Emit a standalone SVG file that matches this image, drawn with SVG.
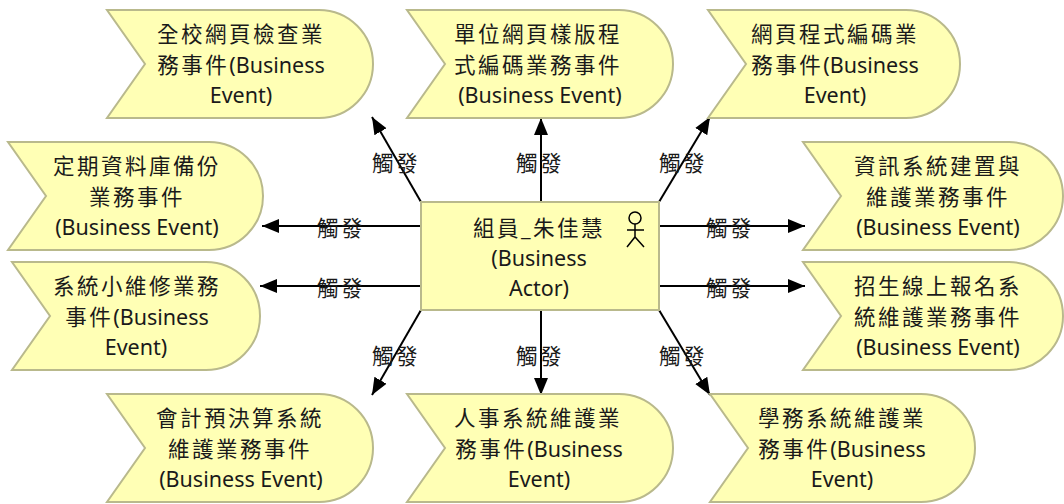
<svg xmlns="http://www.w3.org/2000/svg" width="1064" height="504" viewBox="0 0 1064 504">
<style>
.n{fill:#ffffb5;stroke:#b9b98c;stroke-width:2}
text{font-family:"Noto Sans","Noto Sans CJK TC",sans-serif;font-size:21.5px;fill:#1a1a1a;text-anchor:middle}
tspan{letter-spacing:2.5px}
.c{stroke:#000;stroke-width:2;fill:none;marker-end:url(#a)}
.s{stroke:#000;stroke-width:1.5;fill:none}
</style>
<defs><marker id="a" markerUnits="userSpaceOnUse" markerWidth="18" markerHeight="16" refX="17" refY="8" orient="auto"><path d="M0 1L17 8L0 15Z" fill="#000"/></marker></defs>
<g id="connectors">
<path class="c" d="M421 202L372 117"/>
<path class="c" d="M541 202L541 118"/>
<path class="c" d="M659 202L710 117"/>
<path class="c" d="M421 226L262 226"/>
<path class="c" d="M421 286L260 286"/>
<path class="c" d="M659 226L805 226"/>
<path class="c" d="M659 286L805 286"/>
<path class="c" d="M421 310L372 395"/>
<path class="c" d="M541 310L541 395"/>
<path class="c" d="M659 310L710 395"/>
</g>
<g id="labels">
<text x="396" y="171"><tspan>觸發</tspan></text><text x="540" y="171"><tspan>觸發</tspan></text><text x="683" y="171"><tspan>觸發</tspan></text>
<text x="341" y="236"><tspan>觸發</tspan></text><text x="730" y="236"><tspan>觸發</tspan></text>
<text x="341" y="296"><tspan>觸發</tspan></text><text x="730" y="296"><tspan>觸發</tspan></text>
<text x="396" y="364"><tspan>觸發</tspan></text><text x="540" y="364"><tspan>觸發</tspan></text><text x="683" y="364"><tspan>觸發</tspan></text>
</g>
<g id="n1"><path class="n" d="M107 10H319A54 54 0 0 1 319 118H107L145 64Z"/><text x="241" y="42"><tspan>全校網頁檢查業</tspan></text><text x="241" y="73"><tspan>務事件</tspan>(Business</text><text x="241" y="103">Event)</text></g>
<g id="n2"><path class="n" d="M407 10H619A54 54 0 0 1 619 118H407L445 64Z"/><text x="538" y="42"><tspan>單位網頁樣版程</tspan></text><text x="538" y="73"><tspan>式編碼業務事件</tspan></text><text x="540" y="103">(Business Event)</text></g>
<g id="n3"><path class="n" d="M708 10H906A54 54 0 0 1 906 118H708L746 64Z"/><text x="835" y="42"><tspan>網頁程式編碼業</tspan></text><text x="835" y="73"><tspan>務事件</tspan>(Business</text><text x="835" y="103">Event)</text></g>
<g id="n4"><path class="n" d="M8 142H209A54 54 0 0 1 209 250H8L46 196Z"/><text x="137" y="174"><tspan>定期資料庫備份</tspan></text><text x="137" y="205"><tspan>業務事件</tspan></text><text x="137" y="235">(Business Event)</text></g>
<g id="n5"><path class="n" d="M12 262H206A54 54 0 0 1 206 370H12L50 316Z"/><text x="137" y="294"><tspan>系統小維修業務</tspan></text><text x="137" y="325"><tspan>事件</tspan>(Business</text><text x="136" y="355">Event)</text></g>
<g id="n6"><path class="n" d="M803 142H1009A54 54 0 0 1 1009 250H803L841 196Z"/><text x="938" y="174"><tspan>資訊系統建置與</tspan></text><text x="938" y="205"><tspan>維護業務事件</tspan></text><text x="938" y="235">(Business Event)</text></g>
<g id="n7"><path class="n" d="M803 262H1009A54 54 0 0 1 1009 370H803L841 316Z"/><text x="938" y="294"><tspan>招生線上報名系</tspan></text><text x="938" y="325"><tspan>統維護業務事件</tspan></text><text x="938" y="355">(Business Event)</text></g>
<g id="n8"><path class="n" d="M107 394H319A54 54 0 0 1 319 502H107L145 448Z"/><text x="240" y="426"><tspan>會計預決算系統</tspan></text><text x="240" y="457"><tspan>維護業務事件</tspan></text><text x="241" y="487">(Business Event)</text></g>
<g id="n9"><path class="n" d="M407 394H619A54 54 0 0 1 619 502H407L445 448Z"/><text x="538" y="426"><tspan>人事系統維護業</tspan></text><text x="539" y="457"><tspan>務事件</tspan>(Business</text><text x="539" y="487">Event)</text></g>
<g id="n10"><path class="n" d="M710 394H921A54 54 0 0 1 921 502H710L748 448Z"/><text x="842" y="426"><tspan>學務系統維護業</tspan></text><text x="842" y="457"><tspan>務事件</tspan>(Business</text><text x="842" y="487">Event)</text></g>
<g id="actor"><rect class="n" x="421" y="202" width="238" height="108"/><text x="539" y="236"><tspan>組員_朱佳慧</tspan></text><text x="539" y="266">(Business</text><text x="539" y="296">Actor)</text>
<circle class="s" cx="635" cy="218" r="6"/><path class="s" d="M635 224V237M627 230H644M627 247L635 237L644 247"/></g>
</svg>
